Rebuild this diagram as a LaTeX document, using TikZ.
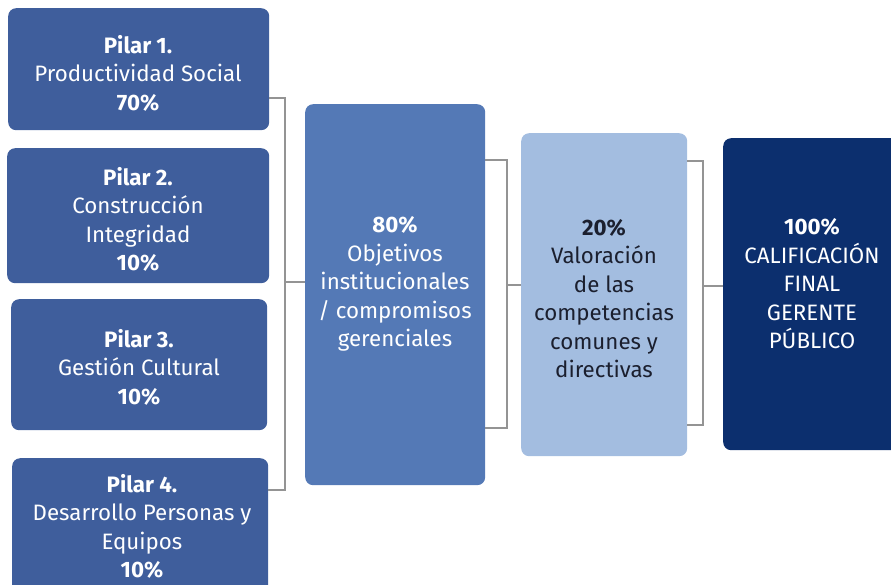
\documentclass[tikz,border=0pt]{standalone}
\usepackage{fontspec}
\setmainfont{Fira Sans}
\begin{document}
\begin{tikzpicture}[x=1pt,y=-1pt,
  box/.style={draw=none,rounded corners=8pt,inner sep=0pt,anchor=north west},
  txt/.style={align=center,inner sep=0pt,font=\fontsize{22.3}{28.5}\selectfont},
  link/.style={draw=black!42,line width=1.8pt}]
\definecolor{pilar}{HTML}{3F5E9C}
\definecolor{obj}{HTML}{5479B6}
\definecolor{comp}{HTML}{A3BDE0}
\definecolor{fin}{HTML}{0C2F6E}
\definecolor{dtext}{HTML}{1B1F2E}
\useasboundingbox (0,0) rectangle (891,584);
\clip (0,0) rectangle (891,584);
% boxes
\node[box,fill=pilar,minimum width=261pt,minimum height=122pt] (p1) at (8,8) {};
\node[box,fill=pilar,minimum width=262pt,minimum height=135pt] (p2) at (7,148) {};
\node[box,fill=pilar,minimum width=256pt,minimum height=131pt] (p3) at (11,299) {};
\node[box,fill=pilar,minimum width=256pt,minimum height=142pt] (p4) at (12,458) {};
\node[box,fill=obj,minimum width=180pt,minimum height=381pt] (obj) at (305,104) {};
\node[box,fill=comp,minimum width=166pt,minimum height=323pt] (comp) at (521,133) {};
\node[box,fill=fin,minimum width=180pt,minimum height=312pt] (fin) at (723,138) {};
% texts
\node[txt,text=white] (t1) at (138,73) {{\bfseries Pilar 1.}\\Productividad Social\\{\bfseries 70\%}};
\node[txt,text=white] (t2) at (138,219.5) {{\bfseries Pilar 2.}\\Construcción\\Integridad\\{\bfseries 10\%}};
\node[txt,text=white] (t3) at (139,367) {{\bfseries Pilar 3.}\\Gestión Cultural\\{\bfseries 10\%}};
\node[txt,text=white] (t4) at (142,526.5) {{\bfseries Pilar 4.}\\Desarrollo Personas y\\Equipos\\{\bfseries 10\%}};
\node[txt,text=white] (to) at (395,284) {{\bfseries 80\%}\\Objetivos\\institucionales\\/ compromisos\\gerenciales};
\node[txt,text=dtext] (tc) at (604,298.5) {{\bfseries 20\%}\\Valoración\\de las\\competencias\\comunes y\\directivas};
\node[txt,text=white] (tf) at (812,284) {{\bfseries 100\%}\\CALIFICACIÓN\\FINAL\\GERENTE\\PÚBLICO};
% connectors
\coordinate (a1) at (285,98);
\coordinate (a4) at (285,490);
\coordinate (am) at (285,282);
\draw[link] (p1.east |- a1) -- (a1) -- (a4) -- (p4.east |- a4);
\draw[link] (am) -- (obj.west |- am);
\coordinate (b1) at (507,160);
\coordinate (b2) at (507,428);
\coordinate (bm) at (507,285);
\draw[link] (obj.east |- b1) -- (b1) -- (b2) -- (obj.east |- b2);
\draw[link] (bm) -- (comp.west |- bm);
\coordinate (c1) at (703,161);
\coordinate (c2) at (703,425);
\coordinate (cm) at (703,286);
\draw[link] (comp.east |- c1) -- (c1) -- (c2) -- (comp.east |- c2);
\draw[link] (cm) -- (fin.west |- cm);
\end{tikzpicture}
\end{document}
